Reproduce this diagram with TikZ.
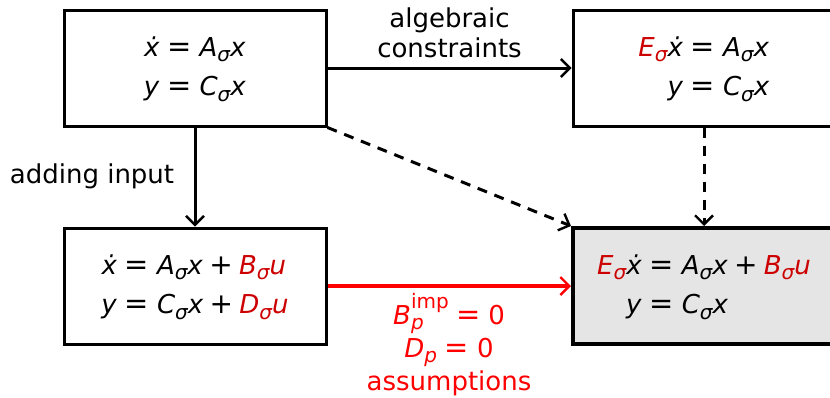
\documentclass[tikz,border=0pt]{standalone}
\usepackage{fontspec}
\setmainfont{DejaVu Sans}
\usetikzlibrary{arrows.meta}
\definecolor{eqred}{RGB}{204,0,0}
\definecolor{lblred}{RGB}{255,0,0}
\definecolor{boxgray}{RGB}{229,229,229}
\newcommand\mv[1]{\textit{#1}}
\newcommand\subx[1]{\smash{\raisebox{-0.2em}{\fontsize{10}{12}\selectfont\itshape #1}}}
\newcommand\ms[2]{\textit{#1}\subx{#2}}
\newcommand\rel{\hspace{0.3em}{\fontsize{14.5}{15}\selectfont=}\hspace{0.3em}}
\newcommand\pl{\hspace{0.24em}{\fontsize{14}{15}\selectfont+}\hspace{0.24em}}
\begin{document}
\begin{tikzpicture}[x=0.5pt,y=-0.5pt,
  every node/.style={font=\fontsize{13}{15.6}\selectfont},
  sysbox/.style={draw=black,line width=1.5pt,minimum width=131pt,minimum height=58pt,inner sep=0pt,fill=white},
  finalbox/.style={sysbox,line width=2pt,fill=boxgray},
  conn/.style={line width=1.5pt,-{Straight Barb[length=4.5pt,width=9pt,line width=1.2pt]}},
  eqs/.style={font=\fontsize{13}{15.6}\selectfont\def\arraystretch{1.28}}]
\clip (0,0) rectangle (830,397);
\useasboundingbox (0,0) rectangle (830,397);
\node[sysbox,eqs] (tl) at (195,68) {\begin{tabular}{r@{}l}\mv{ẋ}&\rel\ms{A}{σ}\mv{x}\\ \mv{y}&\rel\ms{C}{σ}\mv{x}\end{tabular}};
\node[sysbox,eqs] (tr) at (704,68) {\begin{tabular}{r@{}l}{\color{eqred}\ms{E}{σ}}\mv{ẋ}&\rel\ms{A}{σ}\mv{x}\\ \mv{y}&\rel\ms{C}{σ}\mv{x}\end{tabular}};
\node[sysbox,eqs] (bl) at (195,286) {\begin{tabular}{r@{}l}\mv{ẋ}&\rel\ms{A}{σ}\mv{x}\pl{\color{eqred}\ms{B}{σ}\mv{u}}\\ \mv{y}&\rel\ms{C}{σ}\mv{x}\pl{\color{eqred}\ms{D}{σ}\mv{u}}\end{tabular}};
\node[finalbox,eqs] (br) at (704,286) {\begin{tabular}{r@{}l}{\color{eqred}\ms{E}{σ}}\mv{ẋ}&\rel\ms{A}{σ}\mv{x}\pl{\color{eqred}\ms{B}{σ}\mv{u}}\\ \mv{y}&\rel\ms{C}{σ}\mv{x}\end{tabular}};
\draw[conn] (tl.east) -- node[above=1pt,align=center,font=\fontsize{13}{15}\selectfont] (lalg) {algebraic\\constraints} (tr.west);
\draw[conn] (tl.south) -- (bl.north);
\node (lin) at (92,176) {adding input};
\draw[conn,dashed,dash pattern=on 5pt off 4pt] (tl.south east) -- (br.north west);
\draw[conn,dashed,dash pattern=on 5pt off 4pt] (tr.south) -- (br.north);
\draw[conn,draw=lblred,line width=2pt] (bl.east) -- (br.west);
\node[text=lblred,align=center,font=\fontsize{13}{16.5}\selectfont,anchor=north] (lass) at (449,298)
  {\mv{B}\rlap{\smash{\raisebox{0.62em}{\fontsize{10}{12}\selectfont imp}}}\subx{p}\hspace{0.95em}\rel 0\\ \mv{D}\subx{p}\rel 0\\ assumptions};
\end{tikzpicture}
\end{document}
